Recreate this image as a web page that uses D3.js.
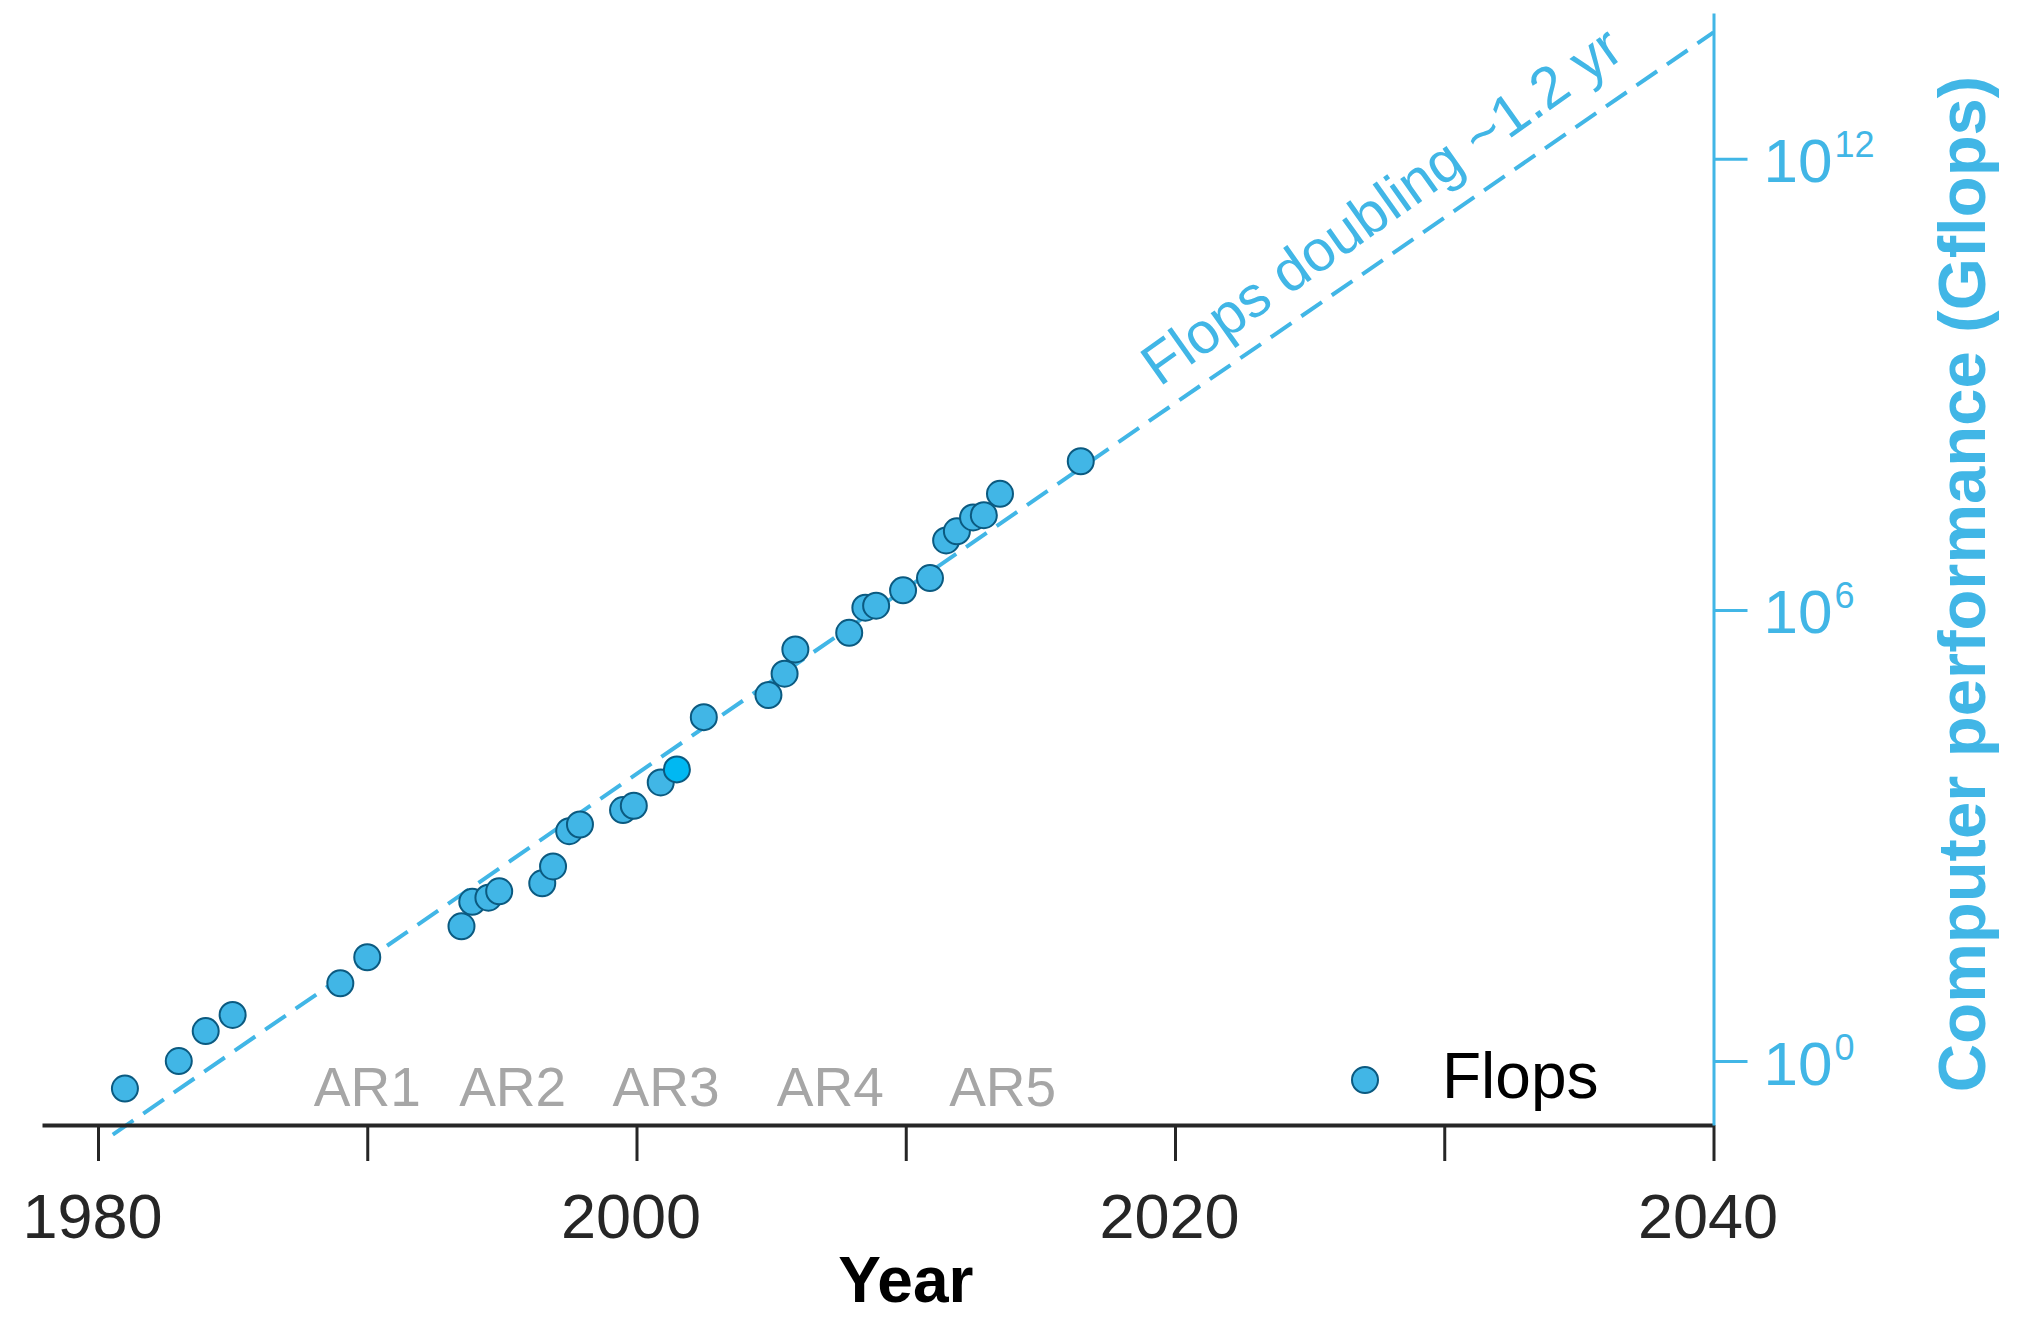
<!DOCTYPE html>
<html><head><meta charset="utf-8">
<script src="https://cdn.jsdelivr.net/npm/d3@7"></script>
<style>
html,body{margin:0;padding:0;background:#fff;}
svg{display:block;}
text{font-family:"Liberation Sans",Arial,Helvetica,sans-serif;}
</style></head><body>
<svg id="chart" width="2017" height="1317"></svg>
<script>
// Peak computer performance per year (Gflops)
const years = [1981.0, 1983.0, 1984.0, 1985.0, 1989.0, 1990.0, 1993.5, 1993.9, 1994.5, 1994.9,
  1996.5, 1996.9, 1997.5, 1997.9, 1999.5, 1999.9, 2000.9, 2001.5, 2002.5, 2004.9,
  2005.5, 2005.9, 2007.9, 2008.5, 2008.9, 2009.9, 2010.9, 2011.5, 2011.9, 2012.5,
  2012.9, 2013.5, 2016.5];
const gflops = [0.43, 1.0, 2.5, 4.1, 10.8, 24, 62, 131, 149, 181,
  231, 388, 1140, 1400, 2180, 2480, 5080, 7570, 37500, 73600,
  142000, 298000, 496000, 1.07e6, 1.14e6, 1.82e6, 2.65e6, 8.4e6, 1.11e7, 1.70e7,
  1.82e7, 3.5e7, 9.5e7];
const highlightedYears = [2001.5];

// Exponential trend (doubling roughly every 1.2 years), given by its end points
const trendYears = [1980.55, 2040];
const trendGflops = [0.105, 4.8e13];
const trendLabel = "Flops doubling ~1.2 yr";
const trendLabelYear = 2019.9;

// IPCC assessment reports
const reportLabels = ["AR1", "AR2", "AR3", "AR4", "AR5"];
const reportYears = [1990, 1995.4, 2001.1, 2007.2, 2013.6];

// Axes
const xDomain = [1977.92, 2040];
const yDomain = [0.141, 8.7e13];
const xTicks = [1980, 1990, 2000, 2010, 2020, 2030, 2040];
const xTickLabels = ["1980", "", "2000", "", "2020", "", "2040"];
const yTicks = [1, 1e6, 1e12];
const yTickExponents = ["0", "6", "12"];
const xTitle = "Year";
const yTitle = "Computer performance (Gflops)";
const legendLabel = "Flops";

const blue = "#41b6e6";
const dark = "#262626";

const svg = d3.select("#chart");

const x = d3.scaleLinear().domain(xDomain).range([42, 1713.5]);
const y = d3.scaleLog().domain(yDomain).range([1125, 13]);
const axisX = 1713.5, axisY = 1125;

// Trend line
const trend = trendYears.map((t, i) => [t, trendGflops[i]]);
svg.append("path")
  .datum(trend)
  .attr("d", d3.line().x(d => x(d[0])).y(d => y(d[1])))
  .attr("fill", "none")
  .attr("stroke", blue)
  .attr("stroke-width", 4)
  .attr("stroke-dasharray", "25 12");

// Trend label, aligned with the line
{
  const p0 = [x(trendYears[0]), y(trendGflops[0])];
  const p1 = [x(trendYears[1]), y(trendGflops[1])];
  const ang = Math.atan2(p1[1] - p0[1], p1[0] - p0[0]) * 180 / Math.PI - 0.8;
  const f = (trendLabelYear - trendYears[0]) / (trendYears[1] - trendYears[0]);
  const lg = Math.log10(trendGflops[0]) + f * (Math.log10(trendGflops[1]) - Math.log10(trendGflops[0]));
  const px = x(trendLabelYear), py = y(Math.pow(10, lg));
  svg.append("text")
    .attr("transform", `translate(${px},${py}) rotate(${ang})`)
    .attr("y", -22)
    .attr("font-size", 58)
    .attr("fill", blue)
    .text(trendLabel);
}

// Report labels
svg.append("g").selectAll("text")
  .data(reportLabels)
  .join("text")
  .attr("x", (d, i) => x(reportYears[i]))
  .attr("y", 1106)
  .attr("text-anchor", "middle")
  .attr("font-size", 55)
  .attr("fill", "#a6a6a6")
  .text(d => d);

// X axis
const gx = svg.append("g")
  .attr("transform", `translate(0,${axisY})`)
  .call(d3.axisBottom(x).tickValues(xTicks).tickSize(36).tickSizeOuter(0)
    .tickFormat((d, i) => xTickLabels[i]));
gx.select(".domain").attr("stroke", dark).attr("stroke-width", 4);
gx.selectAll(".tick line").attr("stroke", dark).attr("stroke-width", 3);
gx.selectAll(".tick text")
  .attr("y", 113).attr("dy", 0).attr("dx", -6)
  .attr("font-size", 63)
  .attr("font-family", '"Liberation Sans",Arial,sans-serif')
  .attr("fill", dark);

svg.append("text")
  .attr("x", x(2010))
  .attr("y", 1302)
  .attr("text-anchor", "middle")
  .attr("font-size", 64)
  .attr("font-weight", "bold")
  .attr("fill", "#000")
  .text(xTitle);

// Right Y axis
const gy = svg.append("g")
  .attr("transform", `translate(${axisX},0)`)
  .call(d3.axisRight(y).tickValues(yTicks).tickSize(34).tickSizeOuter(0).tickFormat(""));
gy.select(".domain").attr("stroke", blue).attr("stroke-width", 3);
gy.selectAll(".tick line").attr("stroke", blue).attr("stroke-width", 3);
gy.selectAll(".tick text").remove();
gy.selectAll(".tick").each(function (d, i) {
  const t = d3.select(this).append("text")
    .attr("x", 50)
    .attr("y", 23)
    .attr("fill", blue)
    .attr("font-family", '"Liberation Sans",Arial,sans-serif')
    .attr("font-size", 62)
    .attr("text-anchor", "start");
  t.append("tspan").text("10");
  t.append("tspan").attr("dy", -25).attr("dx", 2).attr("font-size", 36).text(yTickExponents[i]);
});

svg.append("text")
  .attr("transform", "translate(1985,584) rotate(-90)")
  .attr("text-anchor", "middle")
  .attr("font-size", 67)
  .attr("font-weight", "bold")
  .attr("fill", blue)
  .text(yTitle);

// Data points
svg.append("g").selectAll("circle")
  .data(years.map((t, i) => ({year: t, value: gflops[i]})))
  .join("circle")
  .attr("cx", d => x(d.year))
  .attr("cy", d => y(d.value))
  .attr("r", 13)
  .attr("fill", d => highlightedYears.includes(d.year) ? "#00b8f2" : blue)
  .attr("stroke", "#0b5a80")
  .attr("stroke-width", 2);

// Legend
svg.append("circle")
  .attr("cx", 1365).attr("cy", 1080).attr("r", 13)
  .attr("fill", blue).attr("stroke", "#0b5a80").attr("stroke-width", 2);
svg.append("text")
  .attr("x", 1442).attr("y", 1098)
  .attr("font-size", 64)
  .attr("fill", "#000")
  .text(legendLabel);
</script>
</body></html>
